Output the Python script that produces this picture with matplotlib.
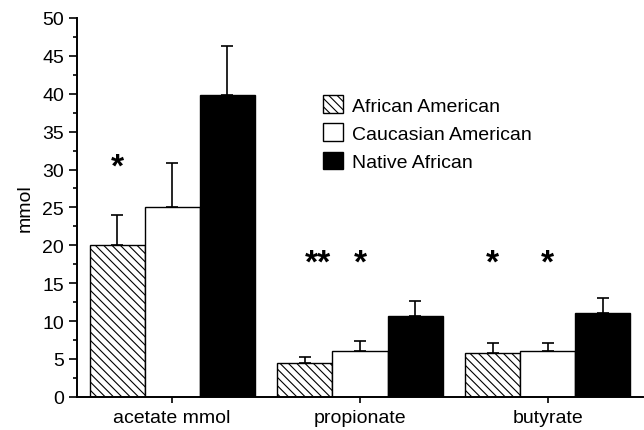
import numpy as np
import matplotlib.pyplot as plt
from matplotlib.ticker import MultipleLocator

plt.rcParams['font.family'] = ['Liberation Sans', 'DejaVu Sans']
plt.rcParams['hatch.linewidth'] = 0.8

categories = ['acetate mmol', 'propionate', 'butyrate']
groups = ['African American', 'Caucasian American', 'Native African']
means = {
    'African American': [20.0, 4.5, 5.8],
    'Caucasian American': [25.0, 6.0, 6.0],
    'Native African': [39.8, 10.7, 11.0],
}
sd = {
    'African American': [4.0, 0.8, 1.3],
    'Caucasian American': [5.8, 1.4, 1.1],
    'Native African': [6.5, 2.0, 2.0],
}
# significance marks: (category index, group index, label, y)
stars = [(0, 0, '*', 30.3), (1, 0, '**', 17.6), (1, 1, '*', 17.6),
         (2, 0, '*', 17.6), (2, 1, '*', 17.6)]

faces = ['white', 'white', 'black']
hatches = ['\\\\\\\\', None, None]

fig = plt.figure(figsize=(6.44, 4.31), dpi=100)
ax = fig.add_axes([0.12, 0.077, 0.878, 0.879])

x = np.arange(len(categories))
w = 0.293
for i, g in enumerate(groups):
    pos = x + (i - 1) * w
    ax.bar(pos, means[g], w, color=faces[i], edgecolor='black', linewidth=1.0,
           hatch=hatches[i], label=g, zorder=2)
    ax.errorbar(pos, means[g], yerr=[np.zeros(len(categories)), sd[g]],
                fmt='none', ecolor='black', elinewidth=1.2, capsize=4,
                capthick=1.2, zorder=1)

for ci, gi, lab, y in stars:
    xs = x[ci] + (gi - 1) * w
    if lab == '**':
        xs += 0.07
    ax.text(xs, y, lab, ha='center', va='center', fontsize=24,
            fontweight='bold')

ax.set_xlim(-0.505, 2.505)
ax.set_ylim(0, 50)
ax.yaxis.set_major_locator(MultipleLocator(5))
ax.yaxis.set_minor_locator(MultipleLocator(2.5))
ax.set_xticks(x)
ax.set_xticklabels(categories)
ax.tick_params(axis='both', labelsize=14, width=1.2, length=6, direction='out')
ax.tick_params(axis='y', which='minor', length=3, width=1.2)
ax.tick_params(axis='x', length=4, pad=5)
ax.set_ylabel('mmol', fontsize=14, labelpad=6)
for s in ['top', 'right']:
    ax.spines[s].set_visible(False)
for s in ['left', 'bottom']:
    ax.spines[s].set_linewidth(1.4)

ax.legend(loc='upper left', bbox_to_anchor=(0.404, 0.842), frameon=False,
          fontsize=14, handlelength=1.0, handleheight=1.0, handletextpad=0.5,
          labelspacing=0.45)

fig.savefig('out.png', dpi=100)
